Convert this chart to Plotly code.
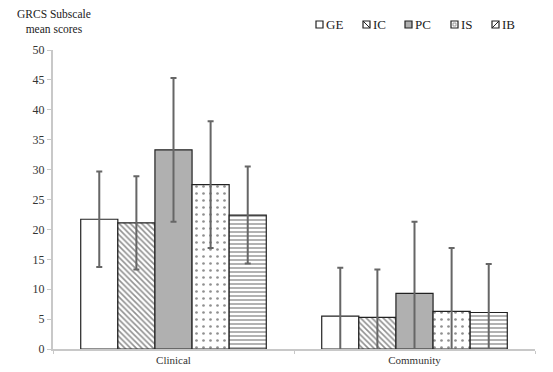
import plotly.graph_objects as go

categories = ["Clinical", "Community"]
series = ["GE", "IC", "PC", "IS", "IB"]
means = {
    "GE": [21.7, 5.5],
    "IC": [21.1, 5.3],
    "PC": [33.3, 9.3],
    "IS": [27.5, 6.3],
    "IB": [22.4, 6.1],
}
errors = {
    "GE": [8.0, 8.1],
    "IC": [7.8, 8.0],
    "PC": [12.0, 12.0],
    "IS": [10.6, 10.6],
    "IB": [8.1, 8.1],
}
title_lines = ["GRCS Subscale", "mean scores"]
fills = {"GE": "white", "IC": "white", "PC": "#b0b0b0", "IS": "white", "IB": "white"}
shapes = {"GE": "", "IC": "\\", "PC": "", "IS": ".", "IB": "-"}
psize = {"GE": 6, "IC": 4, "PC": 6, "IS": 7, "IB": 4}
psol = {"GE": 0.2, "IC": 0.4, "PC": 0.2, "IS": 0.12, "IB": 0.35}

OFF = 8  # browser body margin
W, H = 553 - OFF, 372 - OFF
ML, MR, MT, MB = 53 - OFF, 18, 50 - OFF, 23
PW, PH = W - ML - MR, H - MT - MB


def px_x(px):
    return (px - OFF - ML) / PW


def px_y(py):
    return 1 - (py - OFF - MT) / PH


fig = go.Figure()
for s in series:
    fig.add_trace(go.Bar(
        name=s, x=categories, y=means[s], showlegend=False,
        marker=dict(color=fills[s], line=dict(color="#222", width=1.2),
                    pattern=dict(shape=shapes[s], fgcolor="#222", bgcolor=fills[s],
                                 size=psize[s], solidity=psol[s])),
        error_y=dict(type="data", array=errors[s], color="#666", thickness=2, width=3),
    ))

# custom legend (small square swatches next to the labels)
legend_x0 = [316, 363, 405, 451, 492]  # swatch left edges in page px
ann = []
shp = []
for s, px in zip(series, legend_x0):
    x0, x1 = px_x(px), px_x(px + 7)
    y0, y1 = px_y(28), px_y(21)
    shp.append(dict(type="rect", xref="paper", yref="paper", x0=x0, x1=x1, y0=y0, y1=y1,
                    line=dict(color="#222", width=1.2), fillcolor=fills[s]))
    if s in ("IC", "IB"):
        shp.append(dict(type="line", xref="paper", yref="paper",
                        x0=x0 if s == "IC" else x1, x1=x1 if s == "IC" else x0,
                        y0=y1, y1=y0, line=dict(color="#222", width=1)))
    if s == "IS":
        shp.append(dict(type="rect", xref="paper", yref="paper",
                        x0=px_x(px + 2), x1=px_x(px + 5), y0=px_y(26), y1=px_y(23),
                        line=dict(color="#666", width=0.6), fillcolor="white"))
    ann.append(dict(text=s, xref="paper", yref="paper", x=px_x(px + 8),
                    y=px_y(24.5), xanchor="left", yanchor="middle",
                    showarrow=False, font=dict(size=13, color="#222")))

ann.append(dict(text="<br>".join(title_lines), xref="paper", yref="paper",
                x=px_x(54), y=px_y(21), xanchor="center", yanchor="middle",
                showarrow=False, align="center", borderpad=0,
                font=dict(size=11.5, color="#222")))

fig.update_layout(
    width=W, height=H,
    barmode="group", bargap=0.23, bargroupgap=0,
    paper_bgcolor="white", plot_bgcolor="white",
    margin=dict(l=ML, r=MR, t=MT, b=MB, autoexpand=False),
    font=dict(family="Liberation Serif", size=12, color="#333"),
    showlegend=False,
    annotations=ann,
    shapes=shp,
)
fig.update_yaxes(range=[0, 50], dtick=5, showgrid=False, showline=True, linecolor="#c8c8c8",
                 linewidth=2, ticks="outside", tickcolor="#c8c8c8", ticklen=4, tickwidth=1,
                 automargin=False, zeroline=False, tickfont=dict(size=12, color="#333"))
fig.update_xaxes(showline=True, linecolor="#c8c8c8", linewidth=2, ticks="outside",
                 tickson="boundaries", tickcolor="#c8c8c8", ticklen=3, automargin=False,
                 tickfont=dict(size=11, color="#333"))

fig.write_html("out.html")
